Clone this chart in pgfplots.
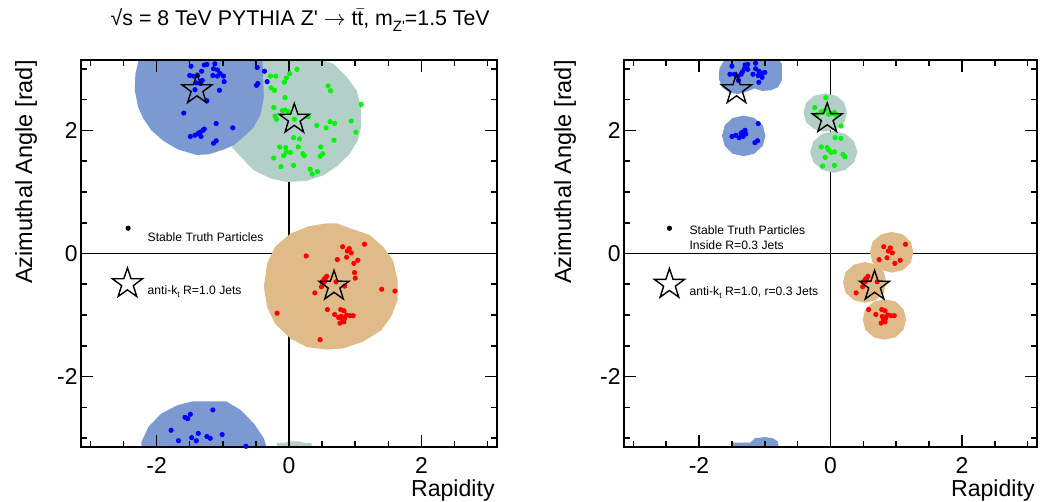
\documentclass[border=0pt]{standalone}
\usepackage{pgfplots}
\pgfplotsset{compat=1.18}
\usepackage{fontspec}
\setmainfont{Liberation Sans}
\usetikzlibrary{plotmarks}

\definecolor{jblue}{RGB}{123,154,209}
\definecolor{jgreen}{RGB}{179,208,200}
\definecolor{jorange}{RGB}{222,187,137}
\definecolor{pblue}{RGB}{0,0,255}
\definecolor{pgreen}{RGB}{0,245,0}
\definecolor{pred}{RGB}{255,0,0}

\pgfdeclareplotmark{ostar}{%
  \pgfpathmoveto{\pgfpointpolar{90}{\pgfplotmarksize}}%
  \pgfpathlineto{\pgfpointpolar{126}{0.39\pgfplotmarksize}}%
  \pgfpathlineto{\pgfpointpolar{162}{\pgfplotmarksize}}%
  \pgfpathlineto{\pgfpointpolar{198}{0.39\pgfplotmarksize}}%
  \pgfpathlineto{\pgfpointpolar{234}{\pgfplotmarksize}}%
  \pgfpathlineto{\pgfpointpolar{270}{0.39\pgfplotmarksize}}%
  \pgfpathlineto{\pgfpointpolar{306}{\pgfplotmarksize}}%
  \pgfpathlineto{\pgfpointpolar{342}{0.39\pgfplotmarksize}}%
  \pgfpathlineto{\pgfpointpolar{18}{\pgfplotmarksize}}%
  \pgfpathlineto{\pgfpointpolar{54}{0.39\pgfplotmarksize}}%
  \pgfpathclose
  \pgfusepathqstroke
}

\pgfplotsset{
  rootstyle/.style={
    scale only axis,
    height=193.5bp,
    xmin=-3.1416, xmax=3.1416, ymin=-3.1416, ymax=3.1416,
    xtick={-2,0,2}, ytick={-2,0,2},
    xticklabels={-2,0,2}, yticklabels={-2,0,2},
    minor xtick={-3,-2.5,-1.5,-1,-0.5,0.5,1,1.5,2.5,3},
    minor ytick={-3,-2.5,-1.5,-1,-0.5,0.5,1,1.5,2.5,3},
    tick align=inside, tick pos=both,
    major tick length=6bp, minor tick length=3bp,
    axis line style={line width=1.1bp},
    every tick/.style={black, line width=0.8bp},
    tick label style={font=\fontsize{11.5}{13}\selectfont},
    xticklabel style={yshift=-1.5bp},
    yticklabel style={xshift=1.8bp},
    axis on top,
    xlabel={Rapidity}, ylabel={Azimuthal Angle [rad]},
    every axis x label/.style={at={(axis description cs:1,-0.113)}, anchor=east, inner sep=0pt, xshift=-1bp, font=\fontsize{11.6}{14}\selectfont},
    every axis y label/.style={at={(axis description cs:-0.132,1)}, anchor=east, rotate=90, inner sep=0pt, font=\fontsize{11.8}{14}\selectfont},
  },
  zline/.style={black, line width=0.6bp, mark=none},
  area/.style={draw=none, mark=none},
  pts/.style={only marks, mark=*, mark size=1.08bp, mark options={draw=none}},
  jet/.style={only marks, mark=ostar, mark size=7.9bp, mark options={black, line width=0.7bp, fill=none}},
}

\begin{document}
\begin{tikzpicture}
\path[use as bounding box] (0,0) rectangle (521bp,251bp);

% ---------------- LEFT PANEL ----------------
\begin{axis}[rootstyle, width=208bp, at={(40.5bp,27.5bp)}, anchor=south west,
  title={√s = 8 TeV PYTHIA Z\textquotesingle{} $\rightarrow$ t$\bar{\mbox{t}}$, m\raisebox{-0.55ex}{\fontsize{7.5}{8}\selectfont Z\textquotesingle}=1.5 TeV},
  every axis title/.style={at={(axis description cs:0.527,1.103)}, anchor=center, font=\fontsize{10.7}{12}\selectfont}]
\addplot[zline] coordinates {(0,-3.1416) (0,3.1416)};
\addplot[zline] coordinates {(-3.1416,0) (3.1416,0)};
% green jet area
\addplot[area, fill=jgreen] coordinates {(-0.55,3.1416) (0.50,3.1416) (0.67,3.08) (0.87,2.87) (1.02,2.65) (1.09,2.38) (1.09,2.06) (1.04,1.84) (0.92,1.62) (0.74,1.43) (0.52,1.27) (0.27,1.18) (-0.03,1.16) (-0.28,1.22) (-0.53,1.35) (-0.73,1.57) (-0.86,1.72) (-0.75,2.0) (-0.6,2.4) (-0.55,2.8)};
\addplot[area, fill=jgreen] coordinates {(-0.18,-3.1416) (-0.18,-3.08) (-0.05,-3.07) (0.0,-3.05) (0.15,-3.05) (0.2,-3.07) (0.34,-3.08) (0.34,-3.1416)};
% blue jet area
\addplot[area, fill=jblue] coordinates {(-2.27,3.1416) (-2.32,2.92) (-2.33,2.65) (-2.28,2.38) (-2.20,2.19) (-2.08,2.00) (-1.90,1.83) (-1.68,1.69) (-1.40,1.60) (-1.21,1.61) (-0.98,1.69) (-0.83,1.76) (-0.70,1.88) (-0.54,2.04) (-0.43,2.25) (-0.38,2.54) (-0.39,2.87) (-0.40,3.1416)};
\addplot[area, fill=jblue] coordinates {(-2.23,-3.1416) (-2.23,-3.06) (-2.12,-2.81) (-1.93,-2.60) (-1.68,-2.46) (-1.45,-2.40) (-0.95,-2.40) (-0.73,-2.54) (-0.53,-2.76) (-0.38,-3.00) (-0.34,-3.1416)};
% orange jet area
\addplot[area, fill=jorange] coordinates {(0.57,0.49) (0.72,0.49) (0.92,0.41) (1.22,0.30) (1.42,0.11) (1.57,-0.11) (1.64,-0.43) (1.64,-0.76) (1.54,-1.03) (1.39,-1.25) (1.12,-1.43) (0.82,-1.54) (0.57,-1.56) (0.27,-1.52) (0.02,-1.38) (-0.21,-1.14) (-0.33,-0.87) (-0.38,-0.54) (-0.33,-0.16) (-0.21,0.11) (0.02,0.32) (0.29,0.44)};
% particles
\addplot[pts, pblue] coordinates {(-1.48,3.04) (-1.50,2.89) (-1.44,2.88) (-1.38,2.89) (-1.32,2.96) (-1.28,3.06) (-1.24,3.07) (-1.12,3.08) (-1.14,3.00) (-1.08,2.98) (-1.04,2.92) (-0.99,2.88) (-1.08,2.88) (-1.15,2.89) (-1.31,2.81) (-1.34,2.76) (-1.40,2.77) (-1.42,2.66) (-1.24,2.48) (-1.05,2.65) (-1.59,2.28) (-1.49,1.90) (-1.42,1.92) (-1.37,1.95) (-1.34,1.97) (-1.30,2.00) (-1.28,2.02) (-1.33,1.90) (-1.10,2.11) (-1.14,1.79) (-1.10,1.83) (-0.85,2.04) (-0.48,3.02) (-0.49,2.73) (-0.47,2.76) (-0.33,2.79) (-0.37,2.96) (-0.98,2.79)
 (-1.15,-2.54) (-1.49,-2.61) (-1.57,-2.66) (-1.53,-2.68) (-1.78,-2.87) (-1.37,-2.92) (-1.47,-2.99) (-1.24,-2.97) (-1.19,-3.00) (-1.01,-2.94) (-1.67,-3.04) (-1.40,-3.04) (-0.65,-3.13)};
\addplot[pts, pgreen] coordinates {(-0.28,2.88) (-0.20,2.88) (0.01,2.92) (-0.04,2.85) (0.12,2.99) (-0.07,2.78) (-0.27,2.69) (-0.22,2.65) (-0.06,2.53) (-0.23,2.37) (-0.21,2.23) (-0.19,2.18) (-0.10,2.32) (-0.06,2.33) (-0.01,2.30) (0.08,2.18) (0.29,2.22) (0.42,2.08) (0.56,2.04) (0.62,2.14) (0.69,2.11) (0.59,2.72) (0.63,2.64) (1.09,2.42) (0.94,2.15) (1.01,1.97) (0.68,1.84) (0.07,1.88) (0.16,1.86) (-0.14,1.73) (-0.05,1.72) (-0.04,1.65) (0.02,1.64) (0.14,1.73) (0.21,1.62) (0.23,1.59) (-0.23,1.55) (-0.08,1.59) (-0.12,1.41) (0.07,1.43) (0.48,1.73) (0.51,1.62) (0.47,1.58) (0.32,1.37) (0.43,1.33) (0.35,1.29)};
\addplot[pts, pred] coordinates {(1.14,0.15) (0.81,0.11) (0.91,0.08) (0.88,0.04) (0.94,0.01) (0.26,-0.04) (0.73,-0.10) (0.87,-0.06) (1.04,-0.11) (0.98,-0.16) (0.99,-0.31) (1.00,-0.40) (0.57,-0.37) (0.53,-0.42) (0.50,-0.46) (0.54,-0.45) (0.55,-0.40) (0.52,-0.48) (0.49,-0.54) (0.39,-0.64) (0.71,-0.46) (0.84,-0.53) (1.40,-0.58) (1.60,-0.61) (-0.18,-0.97) (0.58,-0.91) (0.78,-0.91) (0.83,-0.93) (0.69,-0.99) (0.79,-1.02) (0.87,-1.00) (0.92,-1.01) (0.97,-1.01) (0.84,-1.05) (0.81,-1.08) (0.77,-1.13) (0.83,-1.11) (0.80,-1.05) (0.75,-1.04) (0.47,-1.40)};
% jets
\addplot[jet] coordinates {(-1.39,2.66) (0.08,2.18) (0.68,-0.53)};
% legend
\addplot[pts, black] coordinates {(-2.43,0.41)};
\addplot[jet] coordinates {(-2.44,-0.49)};
\node[anchor=west, font=\fontsize{6.1}{7.5}\selectfont, inner sep=0pt] at (axis cs:-2.14,0.27) {Stable Truth Particles};
\node[anchor=west, font=\fontsize{6.1}{7.5}\selectfont, inner sep=0pt] at (axis cs:-2.14,-0.62) {anti-k\raisebox{-0.5ex}{\fontsize{4.2}{5}\selectfont t} R=1.0 Jets};
\end{axis}

% ---------------- RIGHT PANEL ----------------
\begin{axis}[rootstyle, width=206.5bp, at={(312bp,27.5bp)}, anchor=south west,
  every axis y label/.style={at={(axis description cs:-0.143,1)}, anchor=east, rotate=90, inner sep=0pt, font=\fontsize{11.8}{14}\selectfont}]
\addplot[zline] coordinates {(0,-3.1416) (0,3.1416)};
\addplot[zline] coordinates {(-3.1416,0) (3.1416,0)};
% blue subjet areas
\addplot[area, fill=jblue] coordinates {(-1.61,3.1416) (-0.79,3.1416) (-0.74,3.08) (-0.74,2.81) (-0.80,2.70) (-0.91,2.65) (-1.04,2.64) (-1.16,2.68) (-1.29,2.62) (-1.41,2.59) (-1.54,2.61) (-1.65,2.70) (-1.70,2.84) (-1.69,3.00) (-1.64,3.10)};
\addplot[area, fill=jblue] coordinates {(-0.99,1.91) (-1.03,2.08) (-1.16,2.20) (-1.32,2.24) (-1.49,2.20) (-1.61,2.08) (-1.65,1.91) (-1.61,1.75) (-1.49,1.62) (-1.32,1.58) (-1.16,1.62) (-1.03,1.75)};
\addplot[area, fill=jblue] coordinates {(-1.49,-3.1416) (-1.49,-3.07) (-1.22,-3.07) (-1.15,-3.0) (-1.0,-2.98) (-0.88,-3.0) (-0.80,-3.05) (-0.79,-3.1416)};
% green subjet areas
\addplot[area, fill=jgreen] coordinates {(0.25,2.29) (0.21,2.45) (0.09,2.56) (-0.08,2.60) (-0.25,2.56) (-0.37,2.45) (-0.41,2.29) (-0.37,2.13) (-0.25,2.02) (-0.08,1.98) (0.09,2.02) (0.21,2.13)};
\addplot[area, fill=jgreen] coordinates {(0.41,1.65) (0.36,1.82) (0.23,1.94) (0.05,1.99) (-0.13,1.94) (-0.26,1.82) (-0.31,1.65) (-0.26,1.48) (-0.13,1.36) (0.05,1.31) (0.23,1.36) (0.36,1.48)};
% orange subjet areas
\addplot[area, fill=jorange] coordinates {(1.26,0.02) (1.22,0.19) (1.10,0.31) (0.93,0.35) (0.77,0.31) (0.64,0.19) (0.60,0.02) (0.64,-0.15) (0.77,-0.27) (0.93,-0.31) (1.10,-0.27) (1.22,-0.15)};
\addplot[area, fill=jorange] coordinates {(0.85,-0.47) (0.81,-0.30) (0.69,-0.18) (0.52,-0.14) (0.36,-0.18) (0.23,-0.30) (0.19,-0.47) (0.23,-0.64) (0.36,-0.76) (0.52,-0.80) (0.69,-0.76) (0.81,-0.64)};
\addplot[area, fill=jorange] coordinates {(1.15,-1.07) (1.11,-0.90) (0.99,-0.78) (0.82,-0.74) (0.66,-0.78) (0.53,-0.90) (0.49,-1.07) (0.53,-1.24) (0.66,-1.36) (0.82,-1.40) (0.99,-1.36) (1.11,-1.24)};
% particles
\addplot[pts, pblue] coordinates {(-1.50,3.04) (-1.30,3.06) (-1.26,3.07) (-1.14,3.09) (-1.31,3.00) (-1.26,2.99) (-1.34,2.95) (-1.36,2.91) (-1.41,2.88) (-1.46,2.91) (-1.53,2.91) (-1.40,2.81) (-1.14,3.00) (-1.09,2.96) (-1.05,2.93) (-1.00,2.94) (-1.10,2.89) (-1.04,2.86) (-1.09,2.78) (-1.18,2.91)
 (-1.50,1.90) (-1.44,1.92) (-1.39,1.88) (-1.36,1.95) (-1.34,1.97) (-1.30,2.00) (-1.33,1.90) (-1.29,1.94) (-1.10,2.11) (-1.15,1.80) (-1.11,1.83)};
\addplot[pts, pgreen] coordinates {(-0.07,2.53) (-0.24,2.37) (-0.21,2.25) (-0.14,2.30) (-0.08,2.33) (-0.03,2.26) (0.02,2.27) (0.06,2.29) (0.08,2.25) (0.16,2.07) (0.07,1.88) (0.16,1.87) (-0.14,1.73) (-0.05,1.72) (-0.03,1.68) (0.01,1.64) (-0.08,1.56) (0.06,1.65) (0.19,1.61) (0.22,1.57) (-0.12,1.42) (0.06,1.43)};
\addplot[pts, pred] coordinates {(1.14,0.15) (0.81,0.11) (0.91,0.09) (0.88,0.04) (0.94,0.01) (0.74,-0.10) (0.86,-0.07) (1.06,-0.11) (0.98,-0.16) (0.57,-0.37) (0.53,-0.42) (0.50,-0.46) (0.54,-0.45) (0.55,-0.40) (0.49,-0.54) (0.39,-0.64) (0.71,-0.46) (0.58,-0.91) (0.78,-0.91) (0.83,-0.93) (0.69,-0.99) (0.79,-1.02) (0.87,-1.00) (0.92,-1.01) (0.97,-1.01) (0.84,-1.05) (0.81,-1.08) (0.77,-1.13) (0.83,-1.11) (0.80,-1.05)};
% jets
\addplot[jet] coordinates {(-1.43,2.66) (-0.05,2.19) (0.67,-0.53)};
% legend
\addplot[pts, black] coordinates {(-2.45,0.41)};
\addplot[jet] coordinates {(-2.45,-0.50)};
\node[anchor=west, align=left, font=\fontsize{6.1}{7.2}\selectfont, inner sep=0pt] at (axis cs:-2.15,0.255) {Stable Truth Particles\\Inside R=0.3 Jets};
\node[anchor=west, font=\fontsize{6.1}{7.5}\selectfont, inner sep=0pt] at (axis cs:-2.15,-0.63) {anti-k\raisebox{-0.5ex}{\fontsize{4.2}{5}\selectfont t} R=1.0, r=0.3 Jets};
\end{axis}
\end{tikzpicture}
\end{document}
